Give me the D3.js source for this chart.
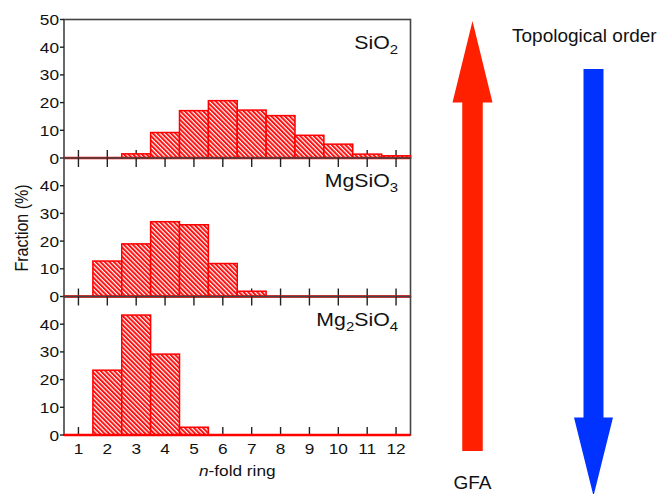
<!DOCTYPE html>
<html>
<head>
<meta charset="utf-8">
<script src="https://cdn.jsdelivr.net/npm/d3@7"></script>
<style>
  body { margin: 0; background: #fff; }
  text { font-family: "Liberation Sans", Arial, Helvetica, sans-serif; fill: #111; }
</style>
</head>
<body>
<svg id="chart" width="665" height="494"></svg>
<script>
// ring sizes and fractions (%) per glass
const rings = [1, 2, 3, 4, 5, 6, 7, 8, 9, 10, 11, 12];
const sio2 = [0, 0, 1.5, 9.2, 17.1, 20.7, 17.3, 15.3, 8.2, 5.0, 1.4, 0.8];
const mgsio3 = [0, 12.8, 19.0, 27.0, 25.9, 11.9, 1.9, 0, 0, 0, 0, 0];
const mg2sio4 = [0, 23.4, 43.3, 29.2, 2.8, 0, 0, 0, 0, 0, 0, 0];
const panelNames = [["SiO", "2", ""], ["MgSiO", "3", ""], ["Mg", "2", "SiO", "4"]];
const panelValues = [sio2, mgsio3, mg2sio4];
const yTicksTop = [0, 10, 20, 30, 40, 50];
const yTicksRest = [0, 10, 20, 30, 40];

const svg = d3.select("#chart");
const SX = 1.15; // chart text looks horizontally stretched

const left = 64, right = 410.5, top0 = 19.5, panelH = 138.5;

const x = d3.scaleLinear().domain([0.5, 12.5]).range([left, right]);

// hatch pattern for the bars
const pat = svg.append("defs").append("pattern")
    .attr("id", "hatch")
    .attr("patternUnits", "userSpaceOnUse")
    .attr("width", 3.2).attr("height", 3.2)
    .attr("patternTransform", "rotate(45)");
pat.append("rect").attr("width", 3.2).attr("height", 3.2).attr("fill", "#ff1010");
pat.append("rect").attr("width", 3.2).attr("height", 1.2).attr("fill", "#fff");

function stext(g, px, py, size, anchor) {
    return g.append("text")
        .attr("transform", `translate(${px},${py}) scale(${SX},1)`)
        .attr("text-anchor", anchor)
        .style("font-size", size + "px");
}

panelValues.forEach((vals, i) => {
    const pTop = top0 + i * panelH;
    const y = d3.scaleLinear().domain([0, 50]).range([pTop + panelH, pTop]);
    const g = svg.append("g");

    // frame
    g.append("rect")
        .attr("x", left).attr("y", pTop)
        .attr("width", right - left).attr("height", panelH)
        .attr("fill", "none").attr("stroke", "#444").attr("stroke-width", 1.6);

    // x ticks, pointing inward
    g.selectAll("line.xb").data(rings).enter().append("line")
        .attr("x1", d => x(d)).attr("x2", d => x(d))
        .attr("y1", y(0)).attr("y2", y(0) - 8)
        .attr("stroke", "#222").attr("stroke-width", 1.4);
    if (i > 0) {
        g.selectAll("line.xt").data(rings).enter().append("line")
            .attr("x1", d => x(d)).attr("x2", d => x(d))
            .attr("y1", pTop).attr("y2", pTop + 9)
            .attr("stroke", "#222").attr("stroke-width", 1.4);
    }

    // y ticks + labels
    const yt = i === 0 ? yTicksTop : yTicksRest;
    g.selectAll("line.yt").data(yt).enter().append("line")
        .attr("x1", left - 4).attr("x2", left)
        .attr("y1", d => y(d)).attr("y2", d => y(d))
        .attr("stroke", "#222").attr("stroke-width", 1.4);
    yt.forEach(d => {
        stext(g, left - 5, y(d) + 5.5, 15, "end").text(d);
    });

    // bars
    g.selectAll("rect.bar").data(rings.filter((r, k) => vals[k] > 0)).enter().append("rect")
        .attr("x", d => x(d - 0.5))
        .attr("width", d => x(d + 0.5) - x(d - 0.5))
        .attr("y", d => y(vals[d - 1]))
        .attr("height", d => y(0) - y(vals[d - 1]))
        .attr("fill", "url(#hatch)")
        .attr("stroke", "#ff0000").attr("stroke-width", 1.5);

    // zero line
    g.append("line")
        .attr("x1", left).attr("x2", right)
        .attr("y1", y(0)).attr("y2", y(0))
        .attr("stroke", "#ff0000").attr("stroke-width", 2.5);

    // panel label with subscripts
    const nm = panelNames[i];
    const t = stext(g, 398, y(50) + 29, 18.5, "end");
    t.append("tspan").text(nm[0]);
    t.append("tspan").attr("dy", 5).style("font-size", "13px").text(nm[1]);
    if (nm.length > 3) {
        t.append("tspan").attr("dy", -5).text(nm[2]);
        t.append("tspan").attr("dy", 5).style("font-size", "13px").text(nm[3]);
    }
});

// x tick labels under bottom panel
const bottomY = top0 + 3 * panelH;
rings.forEach(d => {
    stext(svg, x(d), bottomY + 18.5, 15, "middle").text(d);
});

// axis titles
const xl = stext(svg, (left + right) / 2, bottomY + 41, 15, "middle");
xl.append("tspan").style("font-style", "italic").text("n");
xl.append("tspan").text("-fold ring");

svg.append("text")
    .attr("transform", `translate(28,228) scale(${SX},1) rotate(-90)`)
    .attr("text-anchor", "middle")
    .style("font-size", "16px")
    .text("Fraction (%)");

// arrows on the right
function arrow(cx, tail, base, tip, shaftW, headW, color) {
    const pts = [
        [cx - shaftW / 2, tail], [cx - shaftW / 2, base], [cx - headW / 2, base],
        [cx, tip], [cx + headW / 2, base], [cx + shaftW / 2, base], [cx + shaftW / 2, tail]
    ];
    svg.append("path").attr("d", d3.line()(pts) + "Z").attr("fill", color);
}
arrow(472.5, 451, 102.5, 21, 20.5, 40, "#ff2000");
arrow(593.5, 69, 417.5, 496, 20, 39, "#0033ff");

svg.append("text").attr("x", 512).attr("y", 41.5)
    .style("font-size", "19px").text("Topological order");
svg.append("text").attr("x", 472.5).attr("y", 489).attr("text-anchor", "middle")
    .style("font-size", "19px").text("GFA");
</script>
</body>
</html>
